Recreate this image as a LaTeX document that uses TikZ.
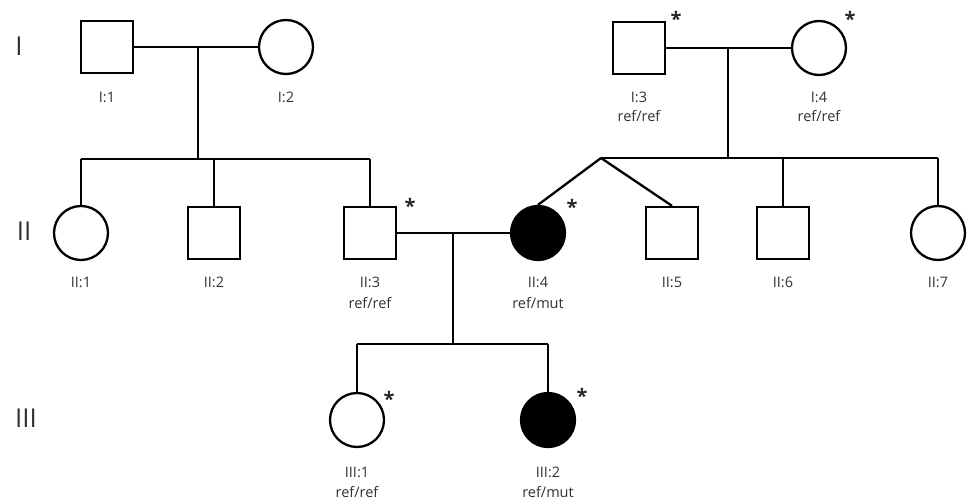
\documentclass[tikz,border=0pt]{standalone}
\usepackage{fontspec}
\setmainfont{Open Sans}
\begin{document}
\begin{tikzpicture}[x=1pt,y=-1pt,
  line width=2.3pt,
  male/.style={draw,rectangle,minimum size=52pt,inner sep=0pt},
  female/.style={draw,circle,minimum size=54pt,inner sep=0pt},
  aff/.style={fill=black},
  lab/.style={text=black!80,font=\fontsize{14.5}{16}\selectfont,inner sep=0pt},
  gen/.style={text=black!80,font=\fontsize{26}{28}\selectfont,inner sep=0pt},
  star/.style={font=\fontsize{20}{20}\selectfont\bfseries,inner sep=0pt,text=black!85}]
\useasboundingbox (0,0) rectangle (968,500);
% generation labels
\node[gen] (gI) at (19,46) {I};
\node[gen] (gII) at (24,231) {II};
\node[gen] (gIII) at (26,418) {III};
% generation I
\node[male] (i1) at (107,47) {};
\node[female] (i2) at (286,47) {};
\node[male] (i3) at (639,48) {};
\node[female] (i4) at (819,48) {};
% generation II
\node[female] (ii1) at (81,233) {};
\node[male] (ii2) at (214,233) {};
\node[male] (ii3) at (370,233) {};
\node[female,aff] (ii4) at (538,233) {};
\node[male] (ii5) at (672,233) {};
\node[male] (ii6) at (783,233) {};
\node[female] (ii7) at (938,233) {};
% generation III
\node[female] (iii1) at (357,420) {};
\node[female,aff] (iii2) at (548,420) {};
% id labels
\node[lab] (li1) at (107,97) {I:1};
\node[lab] (li2) at (286,97) {I:2};
\node[lab] (li3) at (639,97) {I:3};
\node[lab] (gi3) at (639,116) {ref/ref};
\node[lab] (li4) at (819,97) {I:4};
\node[lab] (gi4) at (819,116) {ref/ref};
\node[lab] (lii1) at (81,282) {II:1};
\node[lab] (lii2) at (214,282) {II:2};
\node[lab] (lii3) at (370,282) {II:3};
\node[lab] (gii3) at (370,303) {ref/ref};
\node[lab] (lii4) at (538,282) {II:4};
\node[lab] (gii4) at (538,303) {ref/mut};
\node[lab] (lii5) at (672,282) {II:5};
\node[lab] (lii6) at (783,282) {II:6};
\node[lab] (lii7) at (938,282) {II:7};
\node[lab] (liii1) at (357,472) {III:1};
\node[lab] (giii1) at (357,492) {ref/ref};
\node[lab] (liii2) at (548,472) {III:2};
\node[lab] (giii2) at (548,492) {ref/mut};
% asterisks
\node[star] (s1) at (676,19) {*};
\node[star] (s2) at (850,19) {*};
\node[star] (s3) at (410,206) {*};
\node[star] (s4) at (572,207) {*};
\node[star] (s5) at (389,399) {*};
\node[star] (s6) at (582,396) {*};
% coordinates
\coordinate (m1) at (198,47);
\coordinate (d1) at (198,159);
\coordinate (a1) at (81,159);
\coordinate (b1) at (214,159);
\coordinate (c1) at (370,159);
\coordinate (m2) at (728,48);
\coordinate (d2) at (728,158);
\coordinate (tw) at (601,158);
\coordinate (e2) at (783,158);
\coordinate (f2) at (938,158);
\coordinate (m3) at (453,234);
\coordinate (d3) at (453,344);
\coordinate (a3) at (357,344);
\coordinate (b3) at (548,344);
% connectors
\draw (i1.east) -- (i2.west);
\draw (m1) -- (d1);
\draw (a1) -- (c1);
\draw (a1) -- (ii1.north);
\draw (b1) -- (ii2.north);
\draw (c1) -- (ii3.north);
\draw (i3.east) -- (i4.west);
\draw (m2) -- (d2);
\draw (tw) -- (f2);
\draw (tw) -- (ii4.north);
\draw (tw) -- (ii5.north);
\draw (e2) -- (ii6.north);
\draw (f2) -- (ii7.north);
\draw (ii3.east) -- (ii4.west);
\draw (m3) -- (d3);
\draw (a3) -- (b3);
\draw (a3) -- (iii1.north);
\draw (b3) -- (iii2.north);
\end{tikzpicture}
\end{document}
